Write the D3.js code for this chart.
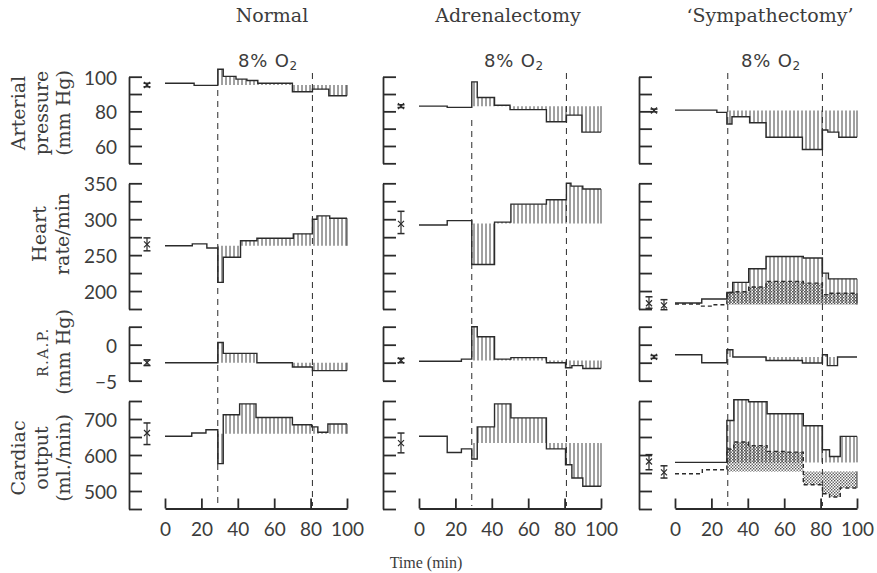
<!DOCTYPE html>
<html>
<head>
<meta charset="utf-8">
<script src="https://cdn.jsdelivr.net/npm/d3@7"></script>
<style>
  body { margin: 0; background: #fff; }
</style>
</head>
<body>
<svg width="877" height="573"></svg>
<script>
var groups = ['Normal', 'Adrenalectomy', '\u2018Sympathectomy\u2019'];
var timeTicks = [0, 20, 40, 60, 80, 100];
var o2On = 29, o2Off = 81;
var hatchFrom = [29, 29, 28.5];

// rows: arterial pressure, heart rate, R.A.P., cardiac output
var rowTitles = [['Arterial', 'pressure', '(mm Hg)'], ['Heart', 'rate/min'], ['R.A.P.', '(mm Hg)'], ['Cardiac', 'output', '(ml./min)']];
var rowDomains = [[50, 100], [175, 350], [-5, 2.5], [450, 750]];
var rowStep = [10, 25, 2.5, 50];
var rowTickLabels = [[100, 80, 60], [350, 300, 250, 200], [0, -5], [700, 600, 500]];

// step traces [time, value] - value holds until next time
var apNormal = [[0, 96.2], [16, 95], [29, 104.3], [32, 100.2], [39, 98.6], [45, 97.8], [51, 96.2], [70, 91.3], [81, 92.8], [90, 89]];
var apAdrenal = [[0, 83], [15.5, 82.3], [29, 97], [32, 88], [41.5, 83.5], [50, 81], [70, 74], [81, 77.8], [89.5, 68]];
var apSympath = [[0, 80.7], [23, 79.4], [28.5, 72.7], [31.3, 76.9], [41, 73.4], [50, 65], [70, 58], [81, 69.2], [84, 68], [90, 65]];

var hrNormal = [[0, 263], [15, 265.7], [23, 260], [29, 212], [32, 247], [41.5, 270], [50.5, 273.6], [70.5, 279.6], [81, 300], [83.5, 304.6], [90.5, 301.4]];
var hrAdrenal = [[0, 292], [15.5, 298], [29, 237], [41.5, 296], [50.5, 321], [70, 327], [81, 350], [83.5, 346], [90, 342]];
var hrSympath = [[0, 183.3], [14.7, 189], [28.5, 198], [31.7, 212], [40.5, 231], [50, 248], [70.5, 246], [81, 225], [84.3, 217]];
var hrSympathB = [[0, 182], [14, 179], [21, 181], [28.5, 198], [31.7, 199], [40.5, 205.6], [50, 213.4], [70.5, 211], [81, 195], [84.3, 197]];

var rapNormal = [[0, -2.5], [29, 0.3], [32, -1.2], [50.5, -2.5], [70, -3.1], [81, -3.6]];
var rapAdrenal = [[0, -2.3], [23.3, -2.0], [29, 2.5], [32, 1.1], [41.5, -2.0], [50.5, -1.8], [70, -2.5], [80.5, -3.2], [84, -2.9], [90, -3.3]];
var rapSympath = [[0, -1.4], [14.7, -2.5], [28.5, -0.7], [31.8, -1.7], [50, -2.2], [70, -2.55], [81, -1.4], [83.7, -2.9], [89.3, -1.7]];

var coNormal = [[0, 652], [14.7, 661], [22.5, 670], [29, 576], [32, 712], [41, 742], [50, 704], [70, 684], [80.6, 678], [84, 663], [89.5, 686]];
var coAdrenal = [[0, 652], [15.5, 607], [23.3, 617], [29, 589], [32, 678], [41.5, 742], [50.5, 703], [70, 617], [80.5, 573], [84, 536], [90, 513]];
var coSympath = [[0, 579.5], [28.5, 696], [32.3, 753.6], [40.4, 748], [50.6, 714.7], [70.5, 681.4], [81, 614.7], [84.9, 596], [90.8, 651.7]];
var coSympathB = [[0, 548], [15, 559], [28.5, 616.7], [32.3, 636], [40.4, 626], [50.6, 610], [60, 608], [70.5, 517.5], [81, 492.5], [84.9, 483.3], [90.8, 508.3]];

// control levels the hatching is measured from
var apBase = [95.2, 83, 80.5];
var hrBase = [263, 294, 183];
var rapBase = [-2.5, -2.2, -1.7];
var coBase = [659, 633, 579.5];
var hrBaseB = 181, coBaseB = 554.5;

// control mean with range [centre, low, high]
var apErr = [[95.2, 94.2, 96.2], [83, 82.2, 83.8], [80.5, 79.7, 81.3]];
var hrErr = [[265, 256, 274], [293.5, 280, 311], [183, 176, 192]];
var rapErr = [[-2.5, -2.9, -2.1], [-2.2, -2.5, -1.9], [-1.7, -1.9, -1.5]];
var coErr = [[661, 629, 689], [633, 606, 661], [582, 559, 601]];
var hrErrB = [180, 174, 188], coErrB = [551.7, 536, 570];

var svg = d3.select('svg');
var ink = '#2b2b2b';
var textInk = '#3c3c3c';
var serif = 'DejaVu Serif';
var sans = 'Lato';

var defs = svg.append('defs');
var vh = defs.append('pattern').attr('id', 'vhatch')
  .attr('patternUnits', 'userSpaceOnUse').attr('width', 4).attr('height', 4);
vh.append('line').attr('x1', 2).attr('x2', 2).attr('y1', 0).attr('y2', 4)
  .attr('stroke', ink).attr('stroke-width', 0.9);
var st = defs.append('pattern').attr('id', 'stipple')
  .attr('patternUnits', 'userSpaceOnUse').attr('width', 3).attr('height', 3);
st.append('rect').attr('width', 1.4).attr('height', 1.4).attr('fill', '#555');
st.append('rect').attr('x', 1.5).attr('y', 1.5).attr('width', 1.4).attr('height', 1.4).attr('fill', '#555');

var colX = [165, 419, 675];
var plotW = 182;
var titleCx = [272, 508, 770];
var o2Cx = [268, 514, 771];
var rowTop = [76.7, 183.3, 326.7, 401];
var rowBottom = [163.3, 309, 380.7, 509];
var xAxisY = 508.5;
var dashTop = [90, 120, 73];

var traces = [
  [apNormal, apAdrenal, apSympath],
  [hrNormal, hrAdrenal, hrSympath],
  [rapNormal, rapAdrenal, rapSympath],
  [coNormal, coAdrenal, coSympath]
];
var bases = [apBase, hrBase, rapBase, coBase];
var errs = [apErr, hrErr, rapErr, coErr];
var extraTraces = {1: [hrSympathB, hrBaseB, hrErrB], 3: [coSympathB, coBaseB, coErrB]};

function withEnd(steps) {
  return steps.concat([[100, steps[steps.length - 1][1]]]);
}

function errorBar(g, x, y, e) {
  g.append('line').attr('x1', x).attr('x2', x).attr('y1', y(e[1])).attr('y2', y(e[2]))
    .attr('stroke', ink).attr('stroke-width', 1.2);
  [e[1], e[2]].forEach(function(v) {
    g.append('line').attr('x1', x - 3.5).attr('x2', x + 3.5).attr('y1', y(v)).attr('y2', y(v))
      .attr('stroke', ink).attr('stroke-width', 1.5);
  });
  var cy = y(e[0]);
  g.append('path').attr('d', 'M' + (x - 3) + ',' + (cy - 3) + 'L' + (x + 3) + ',' + (cy + 3) +
    'M' + (x - 3) + ',' + (cy + 3) + 'L' + (x + 3) + ',' + (cy - 3))
    .attr('stroke', ink).attr('stroke-width', 1.2);
}

function stepArea(g, x, y, steps, base, from, fill) {
  var pts = withEnd(steps).filter(function(d) { return d[0] >= from; });
  var area = d3.area().curve(d3.curveStepAfter)
    .x(function(d) { return x(d[0]); })
    .y0(y(base))
    .y1(function(d) { return y(d[1]); });
  g.append('path').attr('d', area(pts)).attr('fill', fill);
  var last = pts[pts.length - 1][1];
  g.append('line').attr('x1', x(100)).attr('x2', x(100)).attr('y1', y(last)).attr('y2', y(base))
    .attr('stroke', ink).attr('stroke-width', 0.9);
}

function stepLine(g, x, y, steps, dashed) {
  var line = d3.line().curve(d3.curveStepAfter)
    .x(function(d) { return x(d[0]); })
    .y(function(d) { return y(d[1]); });
  g.append('path').attr('d', line(withEnd(steps)))
    .attr('fill', 'none').attr('stroke', ink).attr('stroke-width', 1.4)
    .attr('stroke-dasharray', dashed ? '4,3' : null);
}

groups.forEach(function(name, c) {
  var x = d3.scaleLinear().domain([0, 100]).range([colX[c], colX[c] + plotW]);
  var axisX = colX[c] - 36;
  var col = svg.append('g');

  col.append('text').attr('x', titleCx[c]).attr('y', 22)
    .attr('text-anchor', 'middle').attr('font-family', serif).attr('font-size', 19)
    .attr('fill', textInk).text(name);

  var o2 = col.append('text').attr('x', o2Cx[c]).attr('y', 67)
    .attr('text-anchor', 'middle').attr('font-family', 'DejaVu Sans').attr('font-size', 18)
    .attr('letter-spacing', 0.8).attr('fill', textInk);
  o2.append('tspan').text('8% O');
  o2.append('tspan').attr('font-size', 12).attr('dy', 3).text('2');

  [o2On, o2Off].forEach(function(t, i) {
    col.append('line').attr('x1', x(t)).attr('x2', x(t))
      .attr('y1', i === 0 ? dashTop[c] : 73).attr('y2', 506)
      .attr('stroke', ink).attr('stroke-width', 1).attr('stroke-dasharray', '6,5');
  });

  traces.forEach(function(row, r) {
    var y = d3.scaleLinear().domain(rowDomains[r]).range([rowBottom[r], rowTop[r]]);
    var g = col.append('g');

    var ticks = d3.range(rowDomains[r][0], rowDomains[r][1] + rowStep[r] / 2, rowStep[r]);
    g.append('g').attr('transform', 'translate(' + axisX + ',0)')
      .call(d3.axisRight(y).tickValues(ticks).tickSizeInner(13).tickSizeOuter(0).tickFormat(''))
      .call(function(a) {
        a.select('.domain').attr('stroke', ink).attr('stroke-width', 1.8);
        a.selectAll('.tick line').attr('stroke', ink).attr('stroke-width', 1.8);
      });

    if (c === 0) {
      g.append('g').attr('transform', 'translate(' + axisX + ',1.5)')
        .call(d3.axisLeft(y).tickValues(rowTickLabels[r]).tickSize(0).tickPadding(12))
        .call(function(a) {
          a.select('.domain').remove();
          a.selectAll('text').attr('font-family', sans).attr('font-size', 19).attr('fill', textInk);
        });
    }

    var extra = (c === 2) ? extraTraces[r] : null;
    if (extra) {
      stepArea(g, x, y, extra[0], extra[1], hatchFrom[c], 'url(#stipple)');
    }
    stepArea(g, x, y, row[c], bases[r][c], hatchFrom[c], 'url(#vhatch)');
    stepLine(g, x, y, row[c], false);
    if (extra) {
      stepLine(g, x, y, extra[0], true);
      errorBar(g, axisX + 10, y, errs[r][c]);
      errorBar(g, axisX + 25, y, extra[2]);
    } else {
      errorBar(g, axisX + (c === 2 ? 15 : 18), y, errs[r][c]);
    }
  });

  col.append('g').attr('transform', 'translate(0,' + xAxisY + ')')
    .call(d3.axisBottom(x).tickValues(timeTicks).tickSizeInner(-10).tickSizeOuter(0).tickPadding(14))
    .call(function(a) {
      a.select('.domain').attr('stroke', ink).attr('stroke-width', 1.8);
      a.selectAll('.tick line').attr('stroke', ink).attr('stroke-width', 1.8);
      a.selectAll('text').attr('font-family', sans).attr('font-size', 19).attr('fill', textInk);
    });
});

// row titles
var titleX = [[18, 41, 63], [39, 62], [43, 63], [18, 41, 63]];
var titleY = [113, 234, 352, 458];
rowTitles.forEach(function(lines, r) {
  lines.forEach(function(s, i) {
    var small = (r === 2 && i === 0);
    svg.append('text')
      .attr('transform', 'translate(' + titleX[r][i] + ',' + titleY[r] + ') rotate(-90)')
      .attr('text-anchor', 'middle').attr('dominant-baseline', 'central')
      .attr('font-family', serif).attr('font-size', small ? 14 : 19)
      .attr('letter-spacing', small ? 1.5 : 0)
      .attr('fill', textInk).text(s);
  });
});

svg.append('text').attr('x', 426).attr('y', 568).attr('text-anchor', 'middle')
  .attr('font-family', 'Liberation Serif').attr('font-size', 16).attr('fill', textInk).text('Time (min)');
</script>
</body>
</html>
